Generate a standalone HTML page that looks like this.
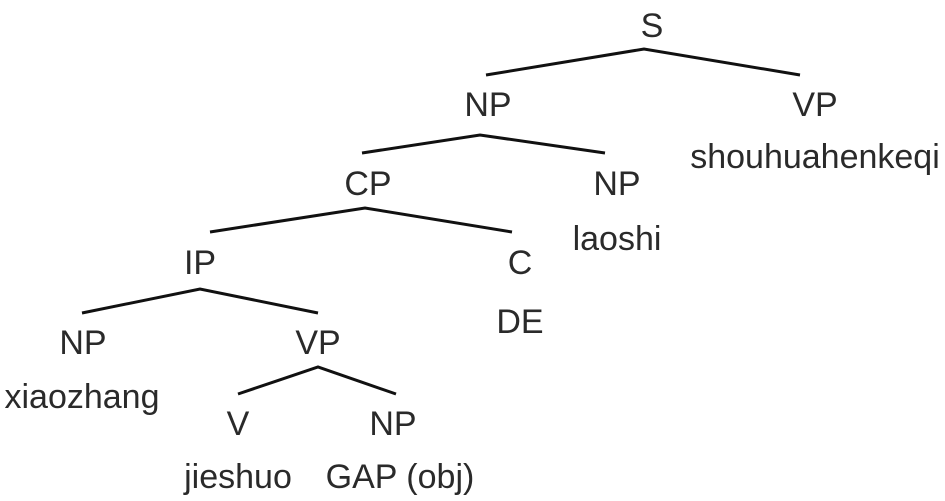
<!DOCTYPE html>
<html><head><style>
html,body{margin:0;padding:0;background:#fff;}
svg{display:block}
text{font-family:"Liberation Sans",Arial,sans-serif;font-size:34px;fill:#2a2a2a;text-anchor:middle}
</style></head><body>
<svg width="945" height="501" viewBox="0 0 945 501">
<g stroke="#111" stroke-width="3" fill="none">
<polyline points="486,75 644,49 800,75"/>
<polyline points="362,153 480,135 605,153"/>
<polyline points="210,232 365,208 512,232"/>
<polyline points="82,313 200,289 318,313"/>
<polyline points="238,394 318,367 396,394"/>
</g>
<text x="652" y="37">S</text>
<text x="488" y="116">NP</text>
<text x="815" y="116">VP</text>
<text x="815" y="168">shouhuahenkeqi</text>
<text x="368" y="195">CP</text>
<text x="617" y="195">NP</text>
<text x="617" y="250">laoshi</text>
<text x="200" y="274">IP</text>
<text x="520" y="274">C</text>
<text x="520" y="333">DE</text>
<text x="83" y="354">NP</text>
<text x="318" y="354">VP</text>
<text x="82" y="408">xiaozhang</text>
<text x="238" y="435">V</text>
<text x="393" y="435">NP</text>
<text x="238" y="488">jieshuo</text>
<text x="400" y="488">GAP (obj)</text>
</svg>
</body></html>
